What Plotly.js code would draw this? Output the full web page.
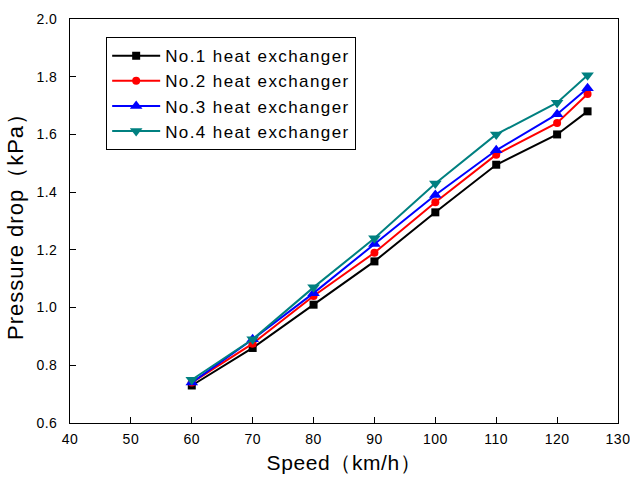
<!DOCTYPE html>
<html>
<head>
<meta charset="utf-8">
<script src="https://cdn.plot.ly/plotly-3.0.1.min.js"></script>
<style>
html,body{margin:0;padding:0;background:#fff;}
#chart{width:630px;height:478px;}
.legendtext{letter-spacing:1.4px;}
.xtitle{letter-spacing:0.6px;}
.ytitle{letter-spacing:1px;}
.xtick text, .ytick text{letter-spacing:0.5px;}
</style>
</head>
<body>
<div id="chart"></div>
<script>
const speed = [60, 70, 80, 90, 100, 110, 120, 125];
const hx1 = [0.73, 0.86, 1.01, 1.16, 1.33, 1.495, 1.60, 1.68];
const hx2 = [0.74, 0.875, 1.04, 1.19, 1.365, 1.53, 1.64, 1.74];
const hx3 = [0.74, 0.89, 1.05, 1.22, 1.39, 1.545, 1.67, 1.76];
const hx4 = [0.75, 0.89, 1.07, 1.24, 1.43, 1.60, 1.71, 1.805];
const names = ['No.1 heat exchanger', 'No.2 heat exchanger', 'No.3 heat exchanger', 'No.4 heat exchanger'];
const colors = ['#000000', '#ff0000', '#0000ff', '#008080'];
const symbols = ['square', 'circle', 'triangle-up', 'triangle-down'];
const markerSizes = [8, 8, 11, 11];
const series = [hx1, hx2, hx3, hx4];
const xTicks = [40, 50, 60, 70, 80, 90, 100, 110, 120, 130];
const yTicks = [0.6, 0.8, 1.0, 1.2, 1.4, 1.6, 1.8, 2.0];

const traces = series.map((s, i) => ({
  x: speed, y: s, name: names[i], type: 'scatter', mode: 'lines+markers',
  line: {color: colors[i], width: 2},
  marker: {color: colors[i], symbol: symbols[i], size: markerSizes[i]}
}));

const font = 'Arial, "Liberation Sans", sans-serif';
const layout = {
  width: 630, height: 478,
  margin: {l: 70, r: 12, t: 19, b: 55},
  paper_bgcolor: '#fff', plot_bgcolor: '#fff',
  font: {family: font, color: '#000'},
  showlegend: true,
  legend: {
    x: 0.066, y: 0.955, xanchor: 'left', yanchor: 'top',
    bgcolor: '#fff', bordercolor: '#000', borderwidth: 1,
    font: {family: font, size: 17, color: '#000'},
    tracegroupgap: 0, itemwidth: 48
  },
  xaxis: {
    range: [40, 130], tickvals: xTicks, ticktext: xTicks.map(String),
    ticks: 'inside', ticklen: 6, tickcolor: '#000', tickwidth: 1,
    showline: true, linecolor: '#000', linewidth: 1, mirror: true,
    showgrid: false, zeroline: false, ticklabeloverflow: 'allow', ticklabelstandoff: 3,
    tickfont: {family: font, size: 14, color: '#000'},
    title: {text: 'Speed（km/h）', font: {family: font, size: 21, color: '#000'}, standoff: 9}
  },
  yaxis: {
    range: [0.6, 2.0], tickvals: yTicks, ticktext: yTicks.map(v => v.toFixed(1) + '\u00a0\u00a0'),
    ticks: 'inside', ticklen: 6, tickcolor: '#000', tickwidth: 1,
    showline: true, linecolor: '#000', linewidth: 1, mirror: true,
    showgrid: false, zeroline: false, ticklabeloverflow: 'allow',
    tickfont: {family: font, size: 14, color: '#000'},
    title: {text: 'Pressure drop（kPa）', font: {family: font, size: 22, color: '#000'}, standoff: 6}
  }
};
Plotly.newPlot('chart', traces, layout, {displayModeBar: false, staticPlot: true});
</script>
</body>
</html>
